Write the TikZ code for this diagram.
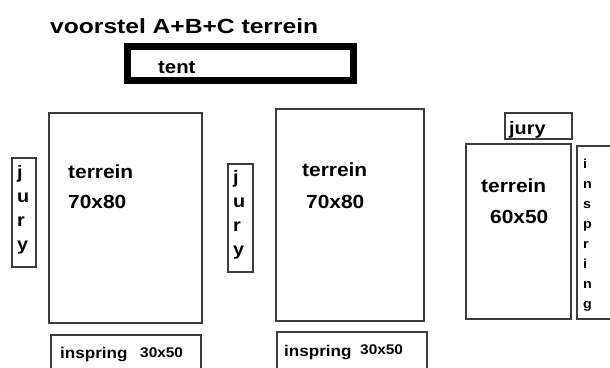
\documentclass[tikz,border=0pt]{standalone}
\usepackage{fontspec}
\usepackage{xcolor}
\usetikzlibrary{positioning}
\setmainfont{Liberation Sans}
\newfontfamily\planfont[FakeStretch=1.1]{Liberation Sans}
\newfontfamily\titlefont[FakeStretch=1.2]{Liberation Sans}
\definecolor{boxgray}{RGB}{60, 60, 60}

\tikzset{
  plot/.style={draw=boxgray, line width=1.5pt},
  lbl/.style={anchor=base west, inner sep=0pt, align=left},
}

\begin{document}
\begin{tikzpicture}[x=1pt, y=-1pt]
            \clip (0,0) rectangle (610,367);
            \fill[white] (0,0) rectangle (610,367);

            % Title and tent
            \node[lbl, font=\titlefont\bfseries\fontsize{20.5}{24}\selectfont] (title) at (50,33) {voorstel A+B+C terrein};
            \draw[line width=7pt, black] (127.5,46.5) rectangle (353.5,80.5);
            \node[lbl, font=\planfont\bfseries\fontsize{18.5}{20}\selectfont] (tent) at (158,73) {tent};

            % Terrein A (last line sits on the given baseline)
            \draw[plot] (12,158) rectangle (36,267);
            \node[lbl, font=\planfont\bfseries\fontsize{18}{24}\selectfont] (juryA) at (17,250) {j\\u\\r\\y};
            \draw[plot] (49,113) rectangle (202,323);
            \node[lbl, font=\planfont\bfseries\fontsize{19}{30}\selectfont] (terreinA) at (68,208) {terrein\\70x80};
            \draw[plot] (51,335) rectangle (201,380);
            \node[lbl, font=\planfont\bfseries\fontsize{15.5}{18}\selectfont] (inspringA) at (60,358) {inspring};
            \node[lbl, font=\planfont\bfseries\fontsize{14}{16}\selectfont] (maatA) at (140,357) {30x50};

            % Terrein B
            \draw[plot] (228,164) rectangle (253,272);
            \node[lbl, font=\planfont\bfseries\fontsize{18}{24}\selectfont] (juryB) at (233,255) {j\\u\\r\\y};
            \draw[plot] (276,109) rectangle (424,321);
            \node[lbl, font=\planfont\bfseries\fontsize{19}{30}\selectfont] (terreinB) at (302,176) {terrein};
            \node[lbl, font=\planfont\bfseries\fontsize{19}{30}\selectfont] (afmB) at (306,208) {70x80};
            \draw[plot] (277,332) rectangle (427,380);
            \node[lbl, font=\planfont\bfseries\fontsize{15.5}{18}\selectfont] (inspringB) at (284,356) {inspring};
            \node[lbl, font=\planfont\bfseries\fontsize{14}{16}\selectfont] (maatB) at (360,354) {30x50};

            % Terrein C
            \draw[plot] (505,113) rectangle (572,139);
            \node[lbl, font=\planfont\bfseries\fontsize{18}{20}\selectfont] (juryC) at (509,134) {jury};
            \draw[plot] (466,144) rectangle (571,319);
            \node[lbl, font=\planfont\bfseries\fontsize{19}{30}\selectfont] (terreinC) at (481,192) {terrein};
            \node[lbl, font=\planfont\bfseries\fontsize{19}{30}\selectfont] (afmC) at (490,223) {60x50};
            \draw[plot] (577,146) rectangle (620,319);
            \node[lbl, font=\planfont\bfseries\fontsize{13}{20}\selectfont] (inspringC) at (583,308) {i\\n\\s\\p\\r\\i\\n\\g};
        \end{tikzpicture}
\end{document}
